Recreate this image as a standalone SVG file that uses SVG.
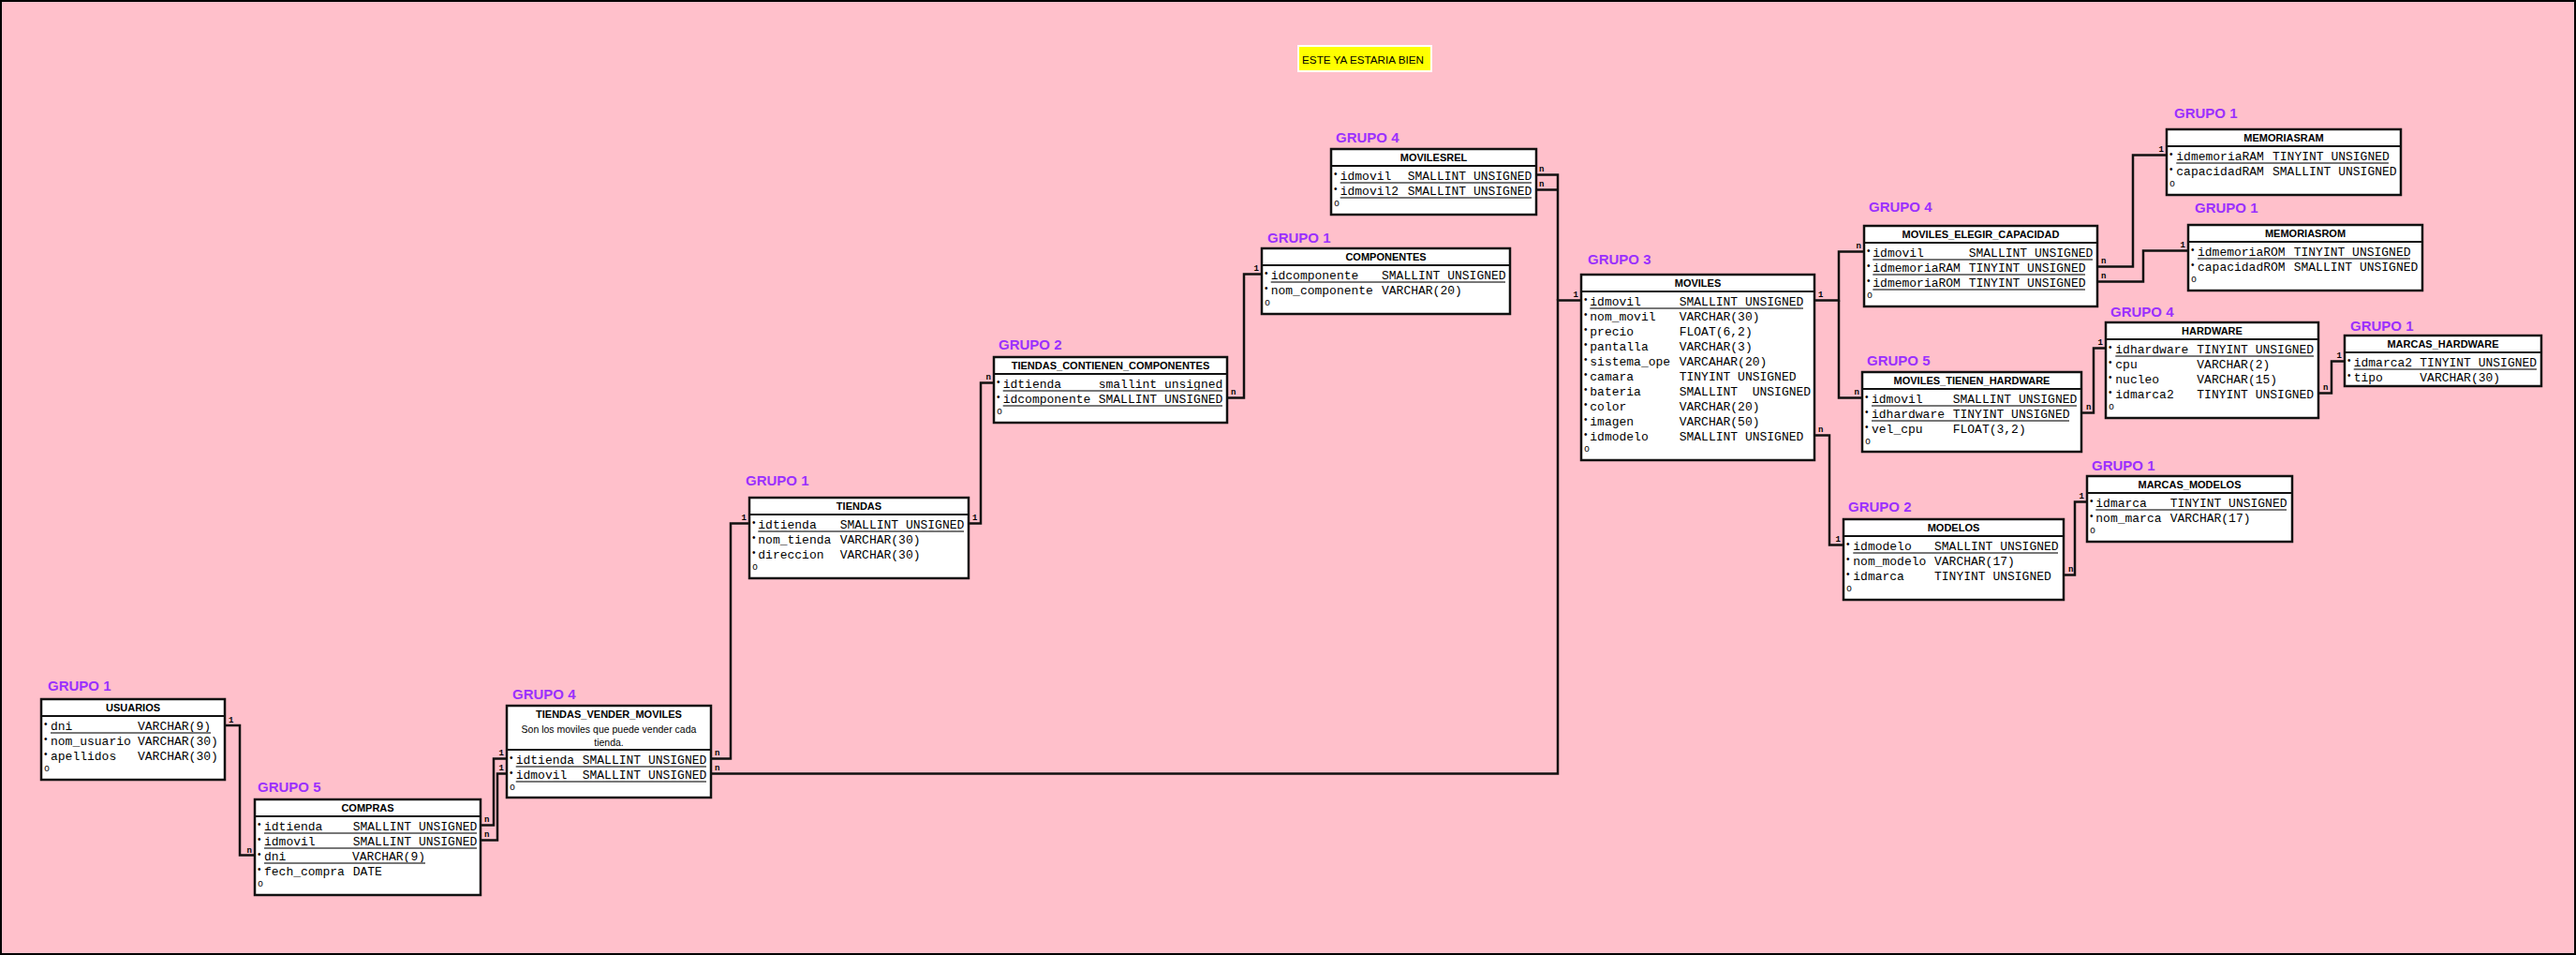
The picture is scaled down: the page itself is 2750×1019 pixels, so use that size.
<svg xmlns="http://www.w3.org/2000/svg" width="2750" height="1019" viewBox="0 0 2750 1019">
<style>
.bg{fill:#ffc0cb;stroke:#000;stroke-width:2}
.box{fill:#fff;stroke:#111;stroke-width:2.5}
.hl{stroke:#111;stroke-width:2}
.t{font-family:"Liberation Sans",Arial,sans-serif;font-weight:bold;font-size:11px;text-anchor:middle;fill:#000}
.cm{font-family:"Liberation Sans",Arial,sans-serif;font-size:10.5px;text-anchor:middle;fill:#000}
.g{font-family:"Liberation Sans",Arial,sans-serif;font-weight:bold;font-size:15px;fill:#9b30ff}
.m{font-family:"Liberation Mono","Courier New",monospace;font-size:13px;fill:#000}
.b{font-family:"Liberation Sans",Arial,sans-serif;font-size:10px;fill:#000}
.o{font-family:"Liberation Mono","Courier New",monospace;font-size:10px;fill:#000}
.pk{stroke:#777;stroke-width:2}
.conn path{fill:none;stroke:#111;stroke-width:2.5}
.c{font-family:"Liberation Mono","Courier New",monospace;font-weight:bold;font-size:9px;fill:#000}
.e{text-anchor:end}
.note{font-family:"Liberation Sans",Arial,sans-serif;font-size:11.7px;fill:#000;text-anchor:middle}
</style>
<rect class="bg" x="1" y="1" width="2748" height="1017"/>

<g id="nota">
<rect x="1386" y="49" width="142" height="27" fill="#ffff00" stroke="#fff" stroke-width="2"/>
<text class="note" x="1455" y="68">ESTE YA ESTARIA BIEN</text>
</g>

<g class="conn" id="connectors">
<path d="M240,774 H256 V912.5 H272"/>
<path d="M513,880.5 H527 V809.5 H541"/>
<path d="M513,896.5 H531 V825.5 H541"/>
<path d="M759,809.5 H780 V558.5 H800"/>
<path d="M759,825.5 H1663 V320.5 H1688"/>
<path d="M1034,558.5 H1047 V408.5 H1061"/>
<path d="M1310,424.5 H1328 V292.5 H1347"/>
<path d="M1640,186.5 H1663 V320.5"/>
<path d="M1640,202.5 H1663"/>
<path d="M1937,320.5 H1963 V268.5 H1990"/>
<path d="M1963,320.5 V424.5 H1988"/>
<path d="M1937,464.5 H1953 V581.5 H1968"/>
<path d="M2239,284.5 H2277 V165.5 H2313"/>
<path d="M2239,300.5 H2288 V267.5 H2336"/>
<path d="M2222,440.5 H2235 V371.5 H2248"/>
<path d="M2475,419.5 H2489 V385.5 H2503"/>
<path d="M2203,613.5 H2215 V535.5 H2228"/>
<text class="c" x="244" y="771">1</text><text class="c e" x="269" y="910">n</text>
<text class="c" x="517" y="877">n</text><text class="c e" x="538" y="806">1</text>
<text class="c" x="517" y="893">n</text><text class="c e" x="538" y="822">1</text>
<text class="c" x="763" y="806">n</text><text class="c e" x="797" y="555">1</text>
<text class="c" x="763" y="822">n</text><text class="c e" x="1685" y="317">1</text>
<text class="c" x="1038" y="555">1</text><text class="c e" x="1058" y="405">n</text>
<text class="c" x="1314" y="421">n</text><text class="c e" x="1344" y="289">1</text>
<text class="c" x="1643" y="183">n</text>
<text class="c" x="1643" y="199">n</text>
<text class="c" x="1941" y="317">1</text><text class="c e" x="1987" y="265">n</text>
<text class="c e" x="1985" y="421">n</text>
<text class="c" x="1941" y="461">n</text><text class="c e" x="1965" y="578">1</text>
<text class="c" x="2243" y="281">n</text><text class="c e" x="2310" y="162">1</text>
<text class="c" x="2243" y="297">n</text><text class="c e" x="2333" y="264">1</text>
<text class="c" x="2227" y="437">n</text><text class="c e" x="2245" y="368">1</text>
<text class="c" x="2480" y="416">n</text><text class="c e" x="2500" y="382">1</text>
<text class="c" x="2208" y="610">n</text><text class="c e" x="2225" y="532">1</text>
</g>

<g id="usuarios">
<text class="g" x="51" y="737">GRUPO 1</text>
<rect class="box" x="44" y="746" width="196" height="86"/>
<line class="hl" x1="44" y1="764" x2="240" y2="764"/>
<text class="t" x="142" y="759">USUARIOS</text>
<text class="b" x="47" y="776">•</text><text class="m" x="54" y="779">dni</text><text class="m" x="147" y="779">VARCHAR(9)</text>
<line class="pk" x1="54" y1="782" x2="225" y2="782"/>
<text class="b" x="47" y="792">•</text><text class="m" x="54" y="795">nom_usuario</text><text class="m" x="147" y="795">VARCHAR(30)</text>
<text class="b" x="47" y="808">•</text><text class="m" x="54" y="811">apellidos</text><text class="m" x="147" y="811">VARCHAR(30)</text>
<text class="o" x="47" y="823">o</text>
</g>

<g id="compras">
<text class="g" x="275" y="845">GRUPO 5</text>
<rect class="box" x="272" y="853" width="241" height="102"/>
<line class="hl" x1="272" y1="871" x2="513" y2="871"/>
<text class="t" x="392.5" y="866">COMPRAS</text>
<text class="b" x="275" y="883">•</text><text class="m" x="282" y="886">idtienda</text><text class="m" x="376.7" y="886">SMALLINT UNSIGNED</text>
<line class="pk" x1="282" y1="889" x2="509" y2="889"/>
<text class="b" x="275" y="899">•</text><text class="m" x="282" y="902">idmovil</text><text class="m" x="376.7" y="902">SMALLINT UNSIGNED</text>
<line class="pk" x1="282" y1="905" x2="509" y2="905"/>
<text class="b" x="275" y="915">•</text><text class="m" x="282" y="918">dni</text><text class="m" x="376" y="918">VARCHAR(9)</text>
<line class="pk" x1="282" y1="921" x2="454" y2="921"/>
<text class="b" x="275" y="931">•</text><text class="m" x="282" y="934">fech_compra</text><text class="m" x="376.7" y="934">DATE</text>
<text class="o" x="275" y="946">o</text>
</g>

<g id="tiendas_vender_moviles">
<text class="g" x="547" y="746">GRUPO 4</text>
<rect class="box" x="541" y="753" width="218" height="98"/>
<line class="hl" x1="541" y1="800" x2="759" y2="800"/>
<text class="t" x="650" y="766">TIENDAS_VENDER_MOVILES</text>
<text class="cm" x="650" y="782">Son los moviles que puede vender cada</text>
<text class="cm" x="650" y="796">tienda.</text>
<text class="b" x="544" y="812">•</text><text class="m" x="550.7" y="815">idtienda</text><text class="m" x="621.7" y="815">SMALLINT UNSIGNED</text>
<line class="pk" x1="550.7" y1="818" x2="754" y2="818"/>
<text class="b" x="544" y="828">•</text><text class="m" x="550.7" y="831">idmovil</text><text class="m" x="621.7" y="831">SMALLINT UNSIGNED</text>
<line class="pk" x1="550.7" y1="834" x2="754" y2="834"/>
<text class="o" x="544" y="843">o</text>
</g>

<g id="tiendas">
<text class="g" x="796" y="518">GRUPO 1</text>
<rect class="box" x="800" y="531" width="234" height="86"/>
<line class="hl" x1="800" y1="549" x2="1034" y2="549"/>
<text class="t" x="917" y="544">TIENDAS</text>
<text class="b" x="803" y="561">•</text><text class="m" x="809.3" y="564">idtienda</text><text class="m" x="896.7" y="564">SMALLINT UNSIGNED</text>
<line class="pk" x1="809.3" y1="567" x2="1029" y2="567"/>
<text class="b" x="803" y="577">•</text><text class="m" x="809.3" y="580">nom_tienda</text><text class="m" x="896.7" y="580">VARCHAR(30)</text>
<text class="b" x="803" y="593">•</text><text class="m" x="809.3" y="596">direccion</text><text class="m" x="896.7" y="596">VARCHAR(30)</text>
<text class="o" x="803" y="608">o</text>
</g>

<g id="tiendas_contienen_componentes">
<text class="g" x="1066" y="373">GRUPO 2</text>
<rect class="box" x="1061" y="381" width="249" height="70"/>
<line class="hl" x1="1061" y1="399" x2="1310" y2="399"/>
<text class="t" x="1185.5" y="394">TIENDAS_CONTIENEN_COMPONENTES</text>
<text class="b" x="1064" y="411">•</text><text class="m" x="1070.7" y="414">idtienda</text><text class="m" x="1172.7" y="414">smallint unsigned</text>
<line class="pk" x1="1070.7" y1="417" x2="1305" y2="417"/>
<text class="b" x="1064" y="427">•</text><text class="m" x="1070.7" y="430">idcomponente</text><text class="m" x="1172.7" y="430">SMALLINT UNSIGNED</text>
<line class="pk" x1="1070.7" y1="433" x2="1305" y2="433"/>
<text class="o" x="1064" y="442">o</text>
</g>

<g id="componentes">
<text class="g" x="1353" y="259">GRUPO 1</text>
<rect class="box" x="1347" y="265" width="265" height="70"/>
<line class="hl" x1="1347" y1="283" x2="1612" y2="283"/>
<text class="t" x="1479.5" y="278">COMPONENTES</text>
<text class="b" x="1350" y="295">•</text><text class="m" x="1356.7" y="298">idcomponente</text><text class="m" x="1475" y="298">SMALLINT UNSIGNED</text>
<line class="pk" x1="1356.7" y1="301" x2="1607" y2="301"/>
<text class="b" x="1350" y="311">•</text><text class="m" x="1356.7" y="314">nom_componente</text><text class="m" x="1475" y="314">VARCHAR(20)</text>
<text class="o" x="1350" y="326">o</text>
</g>

<g id="movilesrel">
<text class="g" x="1426" y="152">GRUPO 4</text>
<rect class="box" x="1421" y="159" width="219" height="70"/>
<line class="hl" x1="1421" y1="177" x2="1640" y2="177"/>
<text class="t" x="1530.5" y="172">MOVILESREL</text>
<text class="b" x="1424" y="189">•</text><text class="m" x="1430.7" y="192">idmovil</text><text class="m" x="1502.7" y="192">SMALLINT UNSIGNED</text>
<line class="pk" x1="1430.7" y1="195" x2="1635" y2="195"/>
<text class="b" x="1424" y="205">•</text><text class="m" x="1430.7" y="208">idmovil2</text><text class="m" x="1502.7" y="208">SMALLINT UNSIGNED</text>
<line class="pk" x1="1430.7" y1="211" x2="1635" y2="211"/>
<text class="o" x="1424" y="220">o</text>
</g>

<g id="moviles">
<text class="g" x="1695" y="282">GRUPO 3</text>
<rect class="box" x="1688" y="293" width="249" height="198"/>
<line class="hl" x1="1688" y1="311" x2="1937" y2="311"/>
<text class="t" x="1812.5" y="306">MOVILES</text>
<text class="b" x="1691" y="323">•</text><text class="m" x="1697.3" y="326">idmovil</text><text class="m" x="1792.7" y="326">SMALLINT UNSIGNED</text>
<line class="pk" x1="1697.3" y1="329" x2="1925" y2="329"/>
<text class="b" x="1691" y="339">•</text><text class="m" x="1697.3" y="342">nom_movil</text><text class="m" x="1792.7" y="342">VARCHAR(30)</text>
<text class="b" x="1691" y="355">•</text><text class="m" x="1697.3" y="358">precio</text><text class="m" x="1792.7" y="358">FLOAT(6,2)</text>
<text class="b" x="1691" y="371">•</text><text class="m" x="1697.3" y="374">pantalla</text><text class="m" x="1792.7" y="374">VARCHAR(3)</text>
<text class="b" x="1691" y="387">•</text><text class="m" x="1697.3" y="390">sistema_ope</text><text class="m" x="1792.7" y="390">VARCAHAR(20)</text>
<text class="b" x="1691" y="403">•</text><text class="m" x="1697.3" y="406">camara</text><text class="m" x="1792.7" y="406">TINYINT UNSIGNED</text>
<text class="b" x="1691" y="419">•</text><text class="m" x="1697.3" y="422">bateria</text><text class="m" x="1792.7" y="422" xml:space="preserve">SMALLINT  UNSIGNED</text>
<text class="b" x="1691" y="435">•</text><text class="m" x="1697.3" y="438">color</text><text class="m" x="1792.7" y="438">VARCHAR(20)</text>
<text class="b" x="1691" y="451">•</text><text class="m" x="1697.3" y="454">imagen</text><text class="m" x="1792.7" y="454">VARCHAR(50)</text>
<text class="b" x="1691" y="467">•</text><text class="m" x="1697.3" y="470">idmodelo</text><text class="m" x="1792.7" y="470">SMALLINT UNSIGNED</text>
<text class="o" x="1691" y="482">o</text>
</g>

<g id="moviles_elegir_capacidad">
<text class="g" x="1995" y="226">GRUPO 4</text>
<rect class="box" x="1990" y="241" width="249" height="86"/>
<line class="hl" x1="1990" y1="259" x2="2239" y2="259"/>
<text class="t" x="2114.5" y="254">MOVILES_ELEGIR_CAPACIDAD</text>
<text class="b" x="1993" y="271">•</text><text class="m" x="1999.3" y="274">idmovil</text><text class="m" x="2101.7" y="274">SMALLINT UNSIGNED</text>
<line class="pk" x1="1999.3" y1="277" x2="2234" y2="277"/>
<text class="b" x="1993" y="287">•</text><text class="m" x="1999.3" y="290">idmemoriaRAM</text><text class="m" x="2101.7" y="290">TINYINT UNSIGNED</text>
<line class="pk" x1="1999.3" y1="293" x2="2226" y2="293"/>
<text class="b" x="1993" y="303">•</text><text class="m" x="1999.3" y="306">idmemoriaROM</text><text class="m" x="2101.7" y="306">TINYINT UNSIGNED</text>
<line class="pk" x1="1999.3" y1="309" x2="2226" y2="309"/>
<text class="o" x="1993" y="318">o</text>
</g>

<g id="moviles_tienen_hardware">
<text class="g" x="1993" y="390">GRUPO 5</text>
<rect class="box" x="1988" y="397" width="234" height="85"/>
<line class="hl" x1="1988" y1="415" x2="2222" y2="415"/>
<text class="t" x="2105" y="410">MOVILES_TIENEN_HARDWARE</text>
<text class="b" x="1991" y="427">•</text><text class="m" x="1998" y="430">idmovil</text><text class="m" x="2084.7" y="430">SMALLINT UNSIGNED</text>
<line class="pk" x1="1998" y1="433" x2="2217" y2="433"/>
<text class="b" x="1991" y="443">•</text><text class="m" x="1998" y="446">idhardware</text><text class="m" x="2084.7" y="446">TINYINT UNSIGNED</text>
<line class="pk" x1="1998" y1="449" x2="2209" y2="449"/>
<text class="b" x="1991" y="459">•</text><text class="m" x="1998" y="462">vel_cpu</text><text class="m" x="2084.7" y="462">FLOAT(3,2)</text>
<text class="o" x="1991" y="474">o</text>
</g>

<g id="memoriasram">
<text class="g" x="2321" y="126">GRUPO 1</text>
<rect class="box" x="2313" y="138" width="250" height="70"/>
<line class="hl" x1="2313" y1="156" x2="2563" y2="156"/>
<text class="t" x="2438" y="151">MEMORIASRAM</text>
<text class="b" x="2316" y="168">•</text><text class="m" x="2323.3" y="171">idmemoriaRAM</text><text class="m" x="2426" y="171">TINYINT UNSIGNED</text>
<line class="pk" x1="2323.3" y1="174" x2="2550" y2="174"/>
<text class="b" x="2316" y="184">•</text><text class="m" x="2323.3" y="187">capacidadRAM</text><text class="m" x="2426" y="187">SMALLINT UNSIGNED</text>
<text class="o" x="2316" y="199">o</text>
</g>

<g id="memoriasrom">
<text class="g" x="2343" y="227">GRUPO 1</text>
<rect class="box" x="2336" y="240" width="250" height="70"/>
<line class="hl" x1="2336" y1="258" x2="2586" y2="258"/>
<text class="t" x="2461" y="253">MEMORIASROM</text>
<text class="b" x="2339" y="270">•</text><text class="m" x="2346" y="273">idmemoriaROM</text><text class="m" x="2448.7" y="273">TINYINT UNSIGNED</text>
<line class="pk" x1="2346" y1="276" x2="2573" y2="276"/>
<text class="b" x="2339" y="286">•</text><text class="m" x="2346" y="289">capacidadROM</text><text class="m" x="2448.7" y="289">SMALLINT UNSIGNED</text>
<text class="o" x="2339" y="301">o</text>
</g>

<g id="hardware">
<text class="g" x="2253" y="338">GRUPO 4</text>
<rect class="box" x="2248" y="344" width="227" height="102"/>
<line class="hl" x1="2248" y1="362" x2="2475" y2="362"/>
<text class="t" x="2361.5" y="357">HARDWARE</text>
<text class="b" x="2251" y="374">•</text><text class="m" x="2258.3" y="377">idhardware</text><text class="m" x="2345.3" y="377">TINYINT UNSIGNED</text>
<line class="pk" x1="2258.3" y1="380" x2="2470" y2="380"/>
<text class="b" x="2251" y="390">•</text><text class="m" x="2258.3" y="393">cpu</text><text class="m" x="2345.3" y="393">VARCHAR(2)</text>
<text class="b" x="2251" y="406">•</text><text class="m" x="2258.3" y="409">nucleo</text><text class="m" x="2345.3" y="409">VARCHAR(15)</text>
<text class="b" x="2251" y="422">•</text><text class="m" x="2258.3" y="425">idmarca2</text><text class="m" x="2345.3" y="425">TINYINT UNSIGNED</text>
<text class="o" x="2251" y="437">o</text>
</g>

<g id="marcas_hardware">
<text class="g" x="2509" y="353">GRUPO 1</text>
<rect class="box" x="2503" y="358" width="210" height="54"/>
<line class="hl" x1="2503" y1="376" x2="2713" y2="376"/>
<text class="t" x="2608" y="371">MARCAS_HARDWARE</text>
<text class="b" x="2506" y="388">•</text><text class="m" x="2512.7" y="391">idmarca2</text><text class="m" x="2583.3" y="391">TINYINT UNSIGNED</text>
<line class="pk" x1="2512.7" y1="394" x2="2708" y2="394"/>
<text class="b" x="2506" y="404">•</text><text class="m" x="2512.7" y="407">tipo</text><text class="m" x="2583.3" y="407">VARCHAR(30)</text>
</g>

<g id="modelos">
<text class="g" x="1973" y="546">GRUPO 2</text>
<rect class="box" x="1968" y="554" width="235" height="86"/>
<line class="hl" x1="1968" y1="572" x2="2203" y2="572"/>
<text class="t" x="2085.5" y="567">MODELOS</text>
<text class="b" x="1971" y="584">•</text><text class="m" x="1978.3" y="587">idmodelo</text><text class="m" x="2065" y="587">SMALLINT UNSIGNED</text>
<line class="pk" x1="1978.3" y1="590" x2="2197" y2="590"/>
<text class="b" x="1971" y="600">•</text><text class="m" x="1978.3" y="603">nom_modelo</text><text class="m" x="2065" y="603">VARCHAR(17)</text>
<text class="b" x="1971" y="616">•</text><text class="m" x="1978.3" y="619">idmarca</text><text class="m" x="2065" y="619">TINYINT UNSIGNED</text>
<text class="o" x="1971" y="631">o</text>
</g>

<g id="marcas_modelos">
<text class="g" x="2233" y="502">GRUPO 1</text>
<rect class="box" x="2228" y="508" width="219" height="70"/>
<line class="hl" x1="2228" y1="526" x2="2447" y2="526"/>
<text class="t" x="2337.5" y="521">MARCAS_MODELOS</text>
<text class="b" x="2231" y="538">•</text><text class="m" x="2237.3" y="541">idmarca</text><text class="m" x="2316.7" y="541">TINYINT UNSIGNED</text>
<line class="pk" x1="2237.3" y1="544" x2="2441" y2="544"/>
<text class="b" x="2231" y="554">•</text><text class="m" x="2237.3" y="557">nom_marca</text><text class="m" x="2316.7" y="557">VARCHAR(17)</text>
<text class="o" x="2231" y="569">o</text>
</g>
</svg>
